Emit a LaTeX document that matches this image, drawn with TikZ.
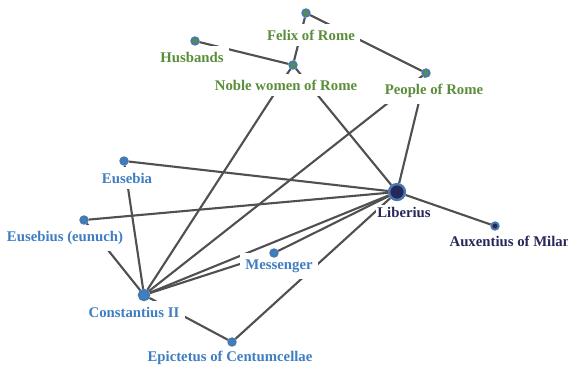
\documentclass[tikz,border=0pt]{standalone}
\usepackage{fontspec}
\setmainfont{Liberation Serif}
\usetikzlibrary{backgrounds}

\definecolor{rome}{HTML}{5B8E3A}
\definecolor{court}{HTML}{3F7EC0}
\definecolor{church}{HTML}{27275A}
\definecolor{ring}{HTML}{4679B0}
\definecolor{edge}{HTML}{505050}

\begin{document}
\begin{tikzpicture}[x=0.02cm, y=-0.02cm,
    dot/.style={circle, draw=ring, line width=1.1pt, inner sep=0pt, minimum size=4.2pt},
    romedot/.style={dot, fill=rome},
    courtdot/.style={dot, fill=court},
    churchdot/.style={dot, fill=church},
    lbl/.style={fill=white, inner xsep=3pt, inner ysep=3.5pt, font=\fontsize{8.4}{10}\selectfont\bfseries},
    link/.style={draw=edge, line width=1.2pt}]
            \useasboundingbox (0,0) rectangle (568,370);

            % Nodes
            \node[romedot] (felix) at (306,13) {};
            \node[romedot] (husbands) at (195,41) {};
            \node[romedot] (noble) at (293,65) {};
            \node[romedot] (people) at (426,73) {};
            \node[courtdot] (eusebia) at (124,161) {};
            \node[churchdot, minimum size=9pt, line width=1.4pt] (liberius) at (397,192) {};
            \node[churchdot] (auxentius) at (495,226) {};
            \node[courtdot] (eunuch) at (84,220) {};
            \node[courtdot] (messenger) at (274,253) {};
            \node[courtdot, minimum size=6pt] (constantius) at (144,295) {};
            \node[courtdot] (epictetus) at (232,342) {};

            \begin{pgfonlayer}{background}
            % Edges
            \path[link] (felix) -- (noble);
            \path[link] (felix) -- (people);
            \path[link] (husbands) -- (noble);
            \path[link] (noble) -- (constantius);
            \path[link] (noble) -- (liberius);
            \path[link] (people) -- (liberius);
            \path[link] (people) -- (constantius);
            \path[link] (eusebia) -- (liberius);
            \path[link] (eusebia) -- (constantius);
            \path[link] (eunuch) -- (liberius);
            \path[link] (eunuch) -- (constantius);
            \path[link] (liberius) -- (auxentius);
            \path[link] (constantius) -- (liberius);
            \path[link] (constantius) -- (messenger);
            \path[link] (messenger) -- (liberius);
            \path[link] (constantius) -- (epictetus);
            \path[link] (epictetus) -- (liberius);

            % Labels
            \node[lbl, text=rome] (felixlbl) at (311,35) {Felix of Rome};
            \node[lbl, text=rome] (husbandslbl) at (192,57) {Husbands};
            \node[lbl, text=rome] (noblelbl) at (286,85) {Noble women of Rome};
            \node[lbl, text=rome] (peoplelbl) at (434,91) {People of Rome};
            \node[lbl, text=court] (eusebialbl) at (127,178) {Eusebia};
            \node[lbl, text=church, inner ysep=1pt, inner xsep=1pt] (liberiuslbl) at (404,212) {Liberius};
            \node[lbl, text=church, anchor=west] (auxentiuslbl) at (444,241) {Auxentius of Milan};
            \node[lbl, text=court] (eunuchlbl) at (65,238) {Eusebius (eunuch)};
            \node[lbl, text=court] (messengerlbl) at (279,266) {Messenger};
            \node[lbl, text=court] (constantiuslbl) at (134,312) {Constantius II};
            \node[lbl, text=court] (epictetuslbl) at (230,358) {Epictetus of Centumcellae};
            \end{pgfonlayer}
        \end{tikzpicture}
\end{document}
